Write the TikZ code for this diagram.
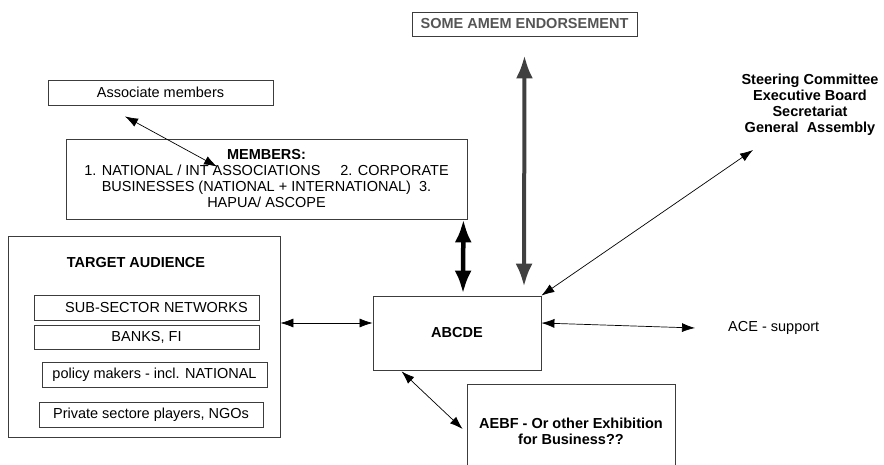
\documentclass[tikz,border=0pt]{standalone}
\usepackage{fontspec}
\setmainfont{Liberation Sans}
\usepackage{xcolor}
\usetikzlibrary{shapes,arrows.meta}

\definecolor{boxgray}{HTML}{3C3C3C}
\definecolor{textgray}{HTML}{555555}
\definecolor{arrowgray}{HTML}{404040}
\newcommand{\diafont}{\fontsize{14.5}{16}\selectfont}

\begin{document}
\begin{tikzpicture}[x=1pt, y=-1pt]
    % Define styles
    \tikzstyle{block} = [rectangle, draw=boxgray, line width=0.8pt, font=\diafont, align=center, inner sep=0pt]
    \tikzstyle{boldtext} = [font=\diafont\bfseries, align=center, inner sep=0pt]
    \tikzstyle{plaintext} = [font=\diafont, align=center, inner sep=0pt]
    \tikzstyle{link} = [draw, line width=0.7pt, {Latex[length=13pt,width=9pt]}-{Latex[length=13pt,width=9pt]}]
    \tikzstyle{biglink} = [draw, line width=4.5pt, {Latex[length=23pt,width=17pt]}-{Latex[length=23pt,width=17pt]}]
    \tikzstyle{graylink} = [biglink, line width=4pt, draw=arrowgray, fill=arrowgray]

    \useasboundingbox (0,0) rectangle (884,465);

    % Place nodes
    \node [block, font=\diafont\bfseries, text=textgray, minimum width=225pt, minimum height=24pt] (amem) at (524.5,24) {SOME AMEM ENDORSEMENT};
    \node [block, minimum width=225pt, minimum height=25pt] (assoc) at (160.5,92.5) {Associate members};
    \node [block, minimum width=401pt, minimum height=80pt] (members) at (266.5,179)
        {\textbf{MEMBERS:}\\1. NATIONAL / INT ASSOCIATIONS\hspace{20pt}2. CORPORATE\\BUSINESSES (NATIONAL + INTERNATIONAL)\ \ 3.\\HAPUA/ ASCOPE};
    \node [boldtext] (steering) at (810,105) {Steering Committee\\Executive Board\\Secretariat\\General\ \ Assembly};
    \coordinate (steertip) at (753,150);

    \node [block, minimum width=272pt, minimum height=201pt] (target) at (144,336.5) {};
    \node [boldtext] (targettitle) at (136,263) {TARGET AUDIENCE};
    \node [block, minimum width=225pt, minimum height=25pt] (subsector) at (146.5,307.5) {\hspace*{20pt}SUB-SECTOR NETWORKS};
    \node [block, minimum width=225pt, minimum height=24pt] (banks) at (146.5,337) {BANKS, FI};
    \node [block, minimum width=225pt, minimum height=25pt] (policy) at (154.5,374.5) {policy makers - incl. NATIONAL};
    \node [block, minimum width=224pt, minimum height=25pt] (private) at (151,414.5) {Private sectore players, NGOs};

    \node [block, font=\diafont\bfseries, minimum width=168pt, minimum height=74pt] (abcde) at (457,333) {ABCDE};
    \node [plaintext, anchor=west] (ace) at (728,328) {ACE - support};
    \node [block, font=\diafont\bfseries, minimum width=208pt, minimum height=94pt] (aebf) at (571,431) {AEBF - Or other Exhibition\\for Business??};

    % Draw edges
    \path [link] ([xshift=-35.5pt,yshift=-11pt]assoc.south) -- ([xshift=-49.5pt,yshift=-28pt]members.north);
    \path [biglink] ([xshift=-4pt]members.south east) -- ([xshift=6pt,yshift=2pt]abcde.north);
    \path [graylink] ([yshift=-19pt]amem.south) -- ([xshift=67pt,yshift=9pt]abcde.north);
    \path [link] (abcde.north east) -- (steertip);
    \path [link] ([yshift=10pt]abcde.east) -- ([xshift=-33pt]ace.west);
    \path [link] ([yshift=13.5pt]target.east) -- ([yshift=10pt]abcde.west);
    \path [link] ([xshift=29pt,yshift=-1pt]abcde.south west) -- ([xshift=-4pt,yshift=2pt]aebf.west);
\end{tikzpicture}
\end{document}
